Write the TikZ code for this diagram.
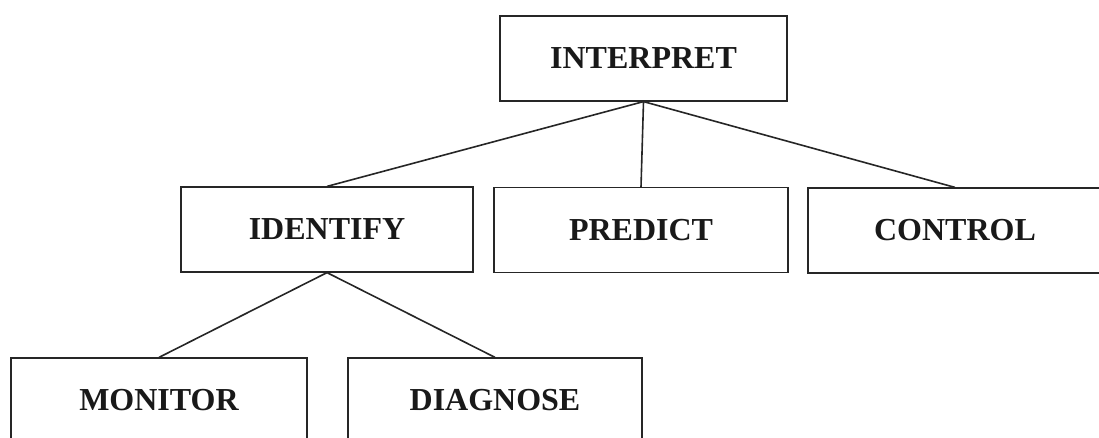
\documentclass[tikz,border=0pt]{standalone}
\usepackage{fontspec}
\setmainfont{Liberation Serif}
\begin{document}
\begin{tikzpicture}[x=1pt,y=-1pt,
  taskbox/.style={draw=black!85,line width=1.2pt,rectangle,inner sep=0pt,
    minimum height=85pt,
    font=\fontsize{32}{36}\selectfont\bfseries,text=black!90},
  link/.style={draw=black!85,line width=1.6pt}]
  \useasboundingbox[clip] (0,0) rectangle (1099,438);
  \fill[white] (0,0) rectangle (1099,438);
  % top level
  \node[taskbox,minimum width=287pt] (interp) at (643.5,58.5) {INTERPRET};
  % second level
  \node[taskbox,minimum width=292pt] (ident) at (327,229.5) {IDENTIFY};
  \node[taskbox,minimum width=294pt] (pred) at (641,230) {PREDICT};
  \node[taskbox,minimum width=294pt] (ctrl) at (955,230.5) {CONTROL};
  % third level
  \node[taskbox,minimum width=296pt] (mon) at (159,400.5) {MONITOR};
  \node[taskbox,minimum width=294pt] (diag) at (495,400.5) {DIAGNOSE};
  % connectors
  \draw[link] (interp.south) -- (ident.north);
  \draw[link] (interp.south) -- (pred.north);
  \draw[link] (interp.south) -- (ctrl.north);
  \draw[link] (ident.south) -- (mon.north);
  \draw[link] (ident.south) -- (diag.north);
\end{tikzpicture}
\end{document}
